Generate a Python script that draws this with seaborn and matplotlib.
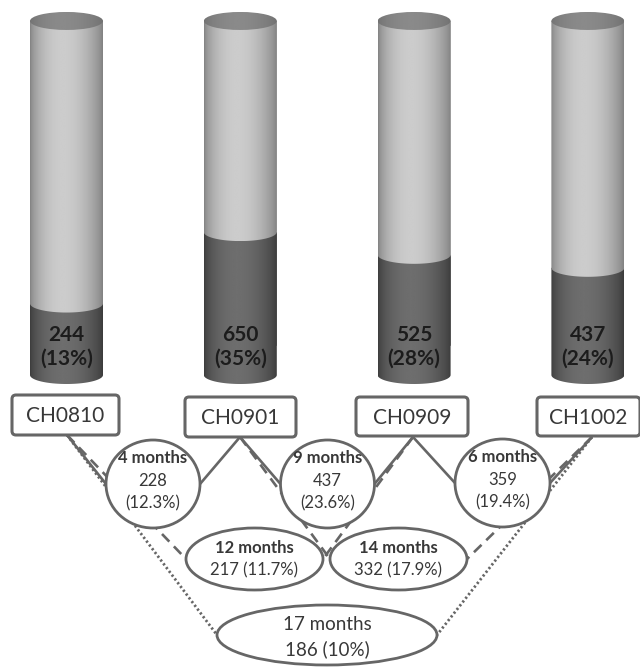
import numpy as np
import pandas as pd
import matplotlib
matplotlib.use("Agg")
import matplotlib.pyplot as plt
import seaborn as sns
from matplotlib.patches import Polygon, Ellipse, FancyBboxPatch

# ---- data -------------------------------------------------------------
cohorts = ["CH0810", "CH0901", "CH0909", "CH1002"]
counts = [244, 650, 525, 437]
shares = [13, 35, 28, 24]          # percent of all participants
full_share = [100, 100, 100, 100]

interval_labels = ["4 months", "9 months", "6 months",
                   "12 months", "14 months", "17 months"]
interval_counts = [228, 437, 359, 217, 332, 186]
interval_shares = ["12.3%", "23.6%", "19.4%", "11.7%", "17.9%", "10%"]
interval_pairs = [(0, 1), (1, 2), (2, 3), (0, 2), (1, 3), (0, 3)]

# ---- layout / style ---------------------------------------------------
W, H = 640, 667
BAR_W = 0.42
BASE = -9.0            # pedestal under the zero line of each cylinder
PX_PER_UNIT = 3.248
BASE_PX = 375
TOP_AX_PX = 400
ELL_PX = 9
LINE_C = "#666666"
TEXT_C = "#383838"

node_geom = [(153, 484, 94, 88), (327.5, 484, 94, 88), (502.5, 483, 95, 88),
             (254.5, 559, 137, 62), (398.5, 559, 137, 62), (327, 635, 220, 60)]
box_geom = [(12, 395, 107, 40), (185, 397, 111, 40),
            (356, 397, 112, 39), (537, 397, 103, 39)]
box_anchor = [(67, 435), (240, 437), (413, 437), (592, 437)]
span_style = {1: ("-", 1.9), 2: ((0, (4.0, 2.5)), 1.9), 3: ((0, (0.8, 0.9)), 2.0)}
span_font = {1: 12, 2: 12, 3: 13.5}

sns.set_theme(style="white")
plt.rcParams["font.family"] = ["Lato", "DejaVu Sans"]

fig = plt.figure(figsize=(W / 100, H / 100), dpi=100)
fig.patch.set_facecolor("white")

# ---- cylinders ----------------------------------------------------------
ax = fig.add_axes([0, 1 - TOP_AX_PX / H, 1, TOP_AX_PX / H])
df = pd.DataFrame({"cohort": cohorts, "count": counts,
                   "share": shares, "full": full_share})
sns.barplot(data=df, x="cohort", y="full", color="#b5b5b5",
            width=BAR_W, ax=ax, zorder=1)
sns.barplot(data=df, x="cohort", y="share", color="#5a5a5a",
            width=BAR_W, ax=ax, zorder=1)

e = ELL_PX / PX_PER_UNIT


def shade_profile(lo, hi, peak=0.45, n=256):
    t = np.linspace(0, 1, n)
    t2 = t ** (np.log(0.5) / np.log(peak))
    return lo + (hi - lo) * np.sin(np.pi * t2) ** 0.7


def shaded(poly, x0, x1, y0, y1, lo, hi, z):
    ax.add_patch(poly)
    im = ax.imshow(shade_profile(lo, hi)[None, :], cmap="gray", vmin=0, vmax=1,
                   extent=(x0, x1, y0, y1), aspect="auto",
                   interpolation="bilinear", zorder=z)
    im.set_clip_path(poly)


bars = ax.patches[:len(cohorts)]
theta = np.linspace(np.pi, 2 * np.pi, 60)
for bar, share, cnt in zip(bars, shares, counts):
    x0 = bar.get_x()
    w = bar.get_width() / 2
    xc = x0 + w
    x1 = x0 + 2 * w
    top = bar.get_height()
    arc_x = xc + w * np.cos(theta)

    dark = np.vstack([[(x0, share), (x0, BASE)],
                      np.column_stack([arc_x, BASE + e * np.sin(theta)]),
                      [(x1, BASE), (x1, share)]])
    shaded(Polygon(dark, closed=True, fc="none", ec="none"),
           x0, x1, BASE - e, share, 0.23, 0.43, 3)

    light = np.vstack([[(x0, top), (x0, share)],
                       np.column_stack([arc_x, share + e * np.sin(theta)]),
                       [(x1, share), (x1, top)]])
    shaded(Polygon(light, closed=True, fc="none", ec="none"),
           x0, x1, share - e, top, 0.50, 0.80, 4)

    cap = Ellipse((xc, top), 2 * w, 2 * e, fc="none", ec="none")
    shaded(cap, x0, x1, top - e, top + e, 0.44, 0.54, 5)

    ax.text(xc, 3.3, f"{cnt}", ha="center", va="center", fontsize=15,
            fontweight="bold", color="#1c1c1c", zorder=6)
    ax.text(xc, -4.1, f"({share}%)", ha="center", va="center", fontsize=15,
            fontweight="bold", color="#1c1c1c", zorder=6)

ax.set_xlim(-66.5 / 173.8, (W - 66.5) / 173.8)
ax.set_ylim(BASE - (TOP_AX_PX - BASE_PX) / PX_PER_UNIT,
            BASE + BASE_PX / PX_PER_UNIT)
ax.axis("off")

# ---- follow-up diagram -------------------------------------------------
axd = fig.add_axes([0, 0, 1, 1])
axd.set_xlim(0, W)
axd.set_ylim(H, 0)
axd.axis("off")
axd.patch.set_alpha(0)

for (a, b), (cx, cy, nw, nh) in zip(interval_pairs, node_geom):
    ls, lw = span_style[b - a]
    for idx, side in ((a, -1), (b, 1)):
        sx, sy = box_anchor[idx]
        axd.plot([sx, cx + side * nw / 2], [sy, cy], color=LINE_C,
                 lw=lw, ls=ls, zorder=1, solid_capstyle="butt")

for i, (lab, cnt, sh, (a, b)) in enumerate(zip(interval_labels, interval_counts,
                                              interval_shares, interval_pairs)):
    cx, cy, nw, nh = node_geom[i]
    fs = span_font[b - a]
    axd.add_patch(Ellipse((cx, cy), nw, nh, fc="white", ec=LINE_C,
                          lw=2, zorder=2))
    if b - a == 1:
        axd.text(cx, cy - 26, lab, ha="center", va="center", fontsize=fs,
                 fontweight="bold", color=TEXT_C, zorder=3)
        axd.text(cx, cy - 3, f"{cnt}", ha="center", va="center", fontsize=fs,
                 color=TEXT_C, zorder=3)
        axd.text(cx, cy + 19, f"({sh})", ha="center", va="center", fontsize=fs,
                 color=TEXT_C, zorder=3)
    else:
        bold = b - a == 2
        off = (-11, 11) if bold else (-11, 14)
        axd.text(cx, cy + off[0], lab, ha="center", va="center", fontsize=fs,
                 fontweight="bold" if bold else "normal", color=TEXT_C, zorder=3)
        axd.text(cx, cy + off[1], f"{cnt} ({sh})", ha="center", va="center",
                 fontsize=fs, color=TEXT_C, zorder=3)

for name, (bx, by, bw, bh) in zip(cohorts, box_geom):
    axd.add_patch(FancyBboxPatch((bx + 4, by + 4), bw - 8, bh - 8,
                                 boxstyle="round,pad=4", fc="white",
                                 ec=LINE_C, lw=2.2, zorder=4))
    axd.text(bx + bw / 2, by + bh / 2 + 1, name, ha="center", va="center",
             fontsize=15, color=TEXT_C, zorder=5)

fig.savefig("out.png", dpi=100)
